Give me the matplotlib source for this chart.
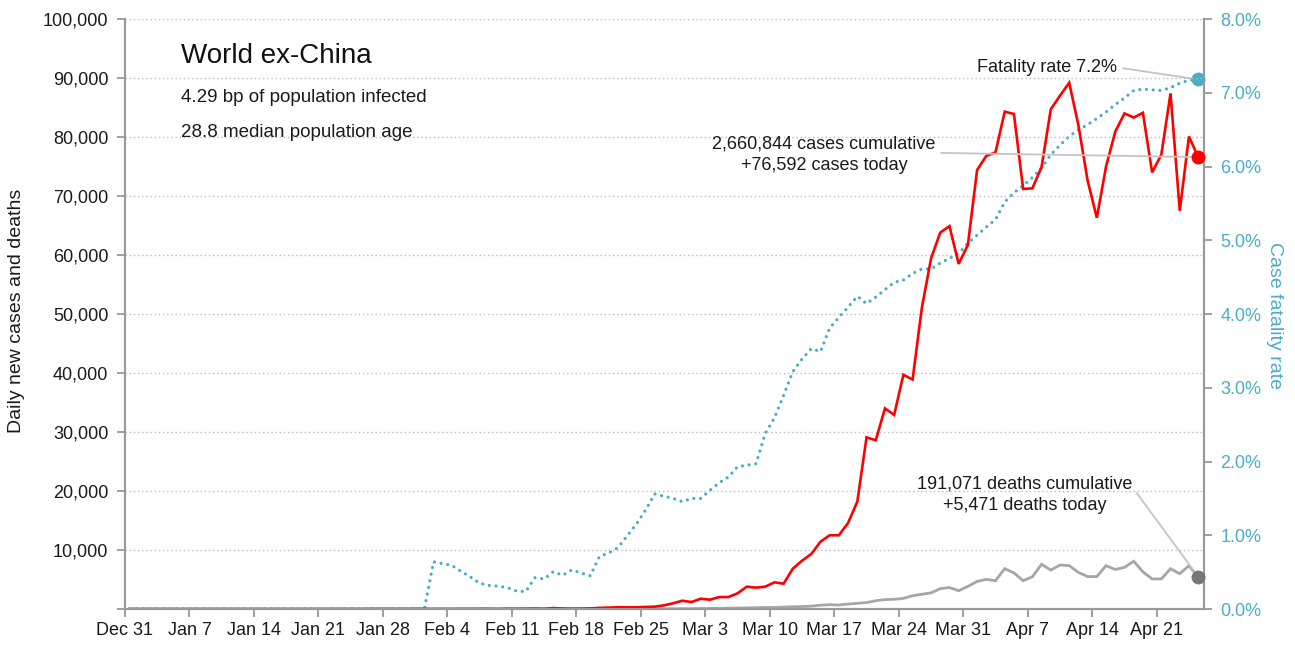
import numpy as np
import pandas as pd
import matplotlib
matplotlib.use("Agg")
import matplotlib.pyplot as plt

# no condensed face available here, Liberation Sans is the narrowest fallback
plt.rcParams['font.family'] = ['Liberation Sans', 'DejaVu Sans']

TEAL = '#4bacc6'
RED = '#ff0000'
GREY = '#a6a6a6'
SPINE = '#999999'
INK = '#1a1a1a'

# one value per day, Dec 31 -> Apr 25 (plotted at midday)
dates = pd.date_range('2019-12-31 12:00', periods=117, freq='D')

new_cases = [
    0, 0, 0, 0, 0, 0, 0, 0, 0, 0,
    0, 0, 0, 1, 0, 0, 1, 0, 1, 1,
    2, 3, 5, 8, 12, 10, 16, 18, 23, 20,
    15, 30, 25, 14, 20, 15, 30, 25, 40, 38,
    15, 50, 45, 60, 80, 40, 160, 90, 60, 75,
    110, 190, 240, 300, 280, 290, 350, 400, 620, 970,
    1410, 1190, 1750, 1580, 2030, 2030, 2660, 3790, 3620, 3790,
    4520, 4300, 6840, 8190, 9320, 11400, 12500, 12500, 14600, 18200,
    29100, 28600, 34000, 32900, 39700, 38900, 51000, 59400, 63800, 64900,
    58500, 61700, 74400, 76800, 77400, 84300, 83900, 71200, 71300, 74900,
    84700, 87000, 89200, 82000, 72600, 66300, 75000, 80900, 84000, 83300,
    84100, 74000, 77000, 87400, 67500, 80100, 76592,
]

new_deaths = [
    0, 0, 0, 0, 0, 0, 0, 0, 0, 0,
    0, 0, 0, 0, 0, 0, 0, 0, 0, 0,
    0, 0, 0, 0, 0, 0, 0, 0, 0, 0,
    0, 0, 0, 1, 0, 0, 1, 0, 0, 1,
    0, 1, 1, 2, 2, 3, 2, 3, 4, 5,
    6, 8, 10, 12, 15, 20, 30, 35, 40, 50,
    60, 65, 90, 100, 110, 150, 170, 200, 230, 260,
    270, 320, 380, 420, 480, 650, 740, 680, 850, 960,
    1100, 1400, 1600, 1650, 1800, 2250, 2500, 2740, 3460, 3640,
    3100, 3830, 4670, 5030, 4800, 6850, 6120, 4800, 5460, 7580,
    6600, 7460, 7350, 6200, 5500, 5500, 7350, 6700, 7060, 8100,
    6300, 5100, 5100, 6830, 5990, 7350, 5471,
]

# case fatality rate, %
fatality_rate = [
    0, 0, 0, 0, 0, 0, 0, 0, 0, 0,
    0, 0, 0, 0, 0, 0, 0, 0, 0, 0,
    0, 0, 0, 0, 0, 0, 0, 0, 0, 0,
    0, 0, 0, 0.64, 0.615, 0.59, 0.51, 0.434, 0.35, 0.32,
    0.31, 0.29, 0.244, 0.236, 0.425, 0.407, 0.507, 0.457, 0.53, 0.49,
    0.45, 0.71, 0.76, 0.83, 0.99, 1.15, 1.34, 1.56, 1.53, 1.50,
    1.455, 1.50, 1.50, 1.61, 1.71, 1.79, 1.93, 1.95, 1.97, 2.38,
    2.59, 2.9, 3.22, 3.39, 3.53, 3.49, 3.81, 3.955, 4.095, 4.24,
    4.14, 4.23, 4.33, 4.43, 4.46, 4.55, 4.61, 4.61, 4.69, 4.755,
    4.82, 4.96, 5.07, 5.18, 5.28, 5.52, 5.645, 5.74, 5.85, 5.98,
    6.16, 6.29, 6.41, 6.495, 6.57, 6.65, 6.74, 6.84, 6.93, 7.03,
    7.05, 7.04, 7.03, 7.07, 7.13, 7.17, 7.18,
]

tick_dates = pd.date_range('2019-12-31', '2020-04-21', freq='7D')
tick_labels = [f"{d:%b} {d.day}" for d in tick_dates]
left_ticks = list(range(0, 100001, 10000))
right_ticks = list(range(0, 9))

title = "World ex-China"
subtitle = ["4.29 bp of population infected", "28.8 median population age"]

fig = plt.figure(figsize=(12.95, 6.49), dpi=100)
ax = fig.add_axes([0.0965, 0.0616, 0.833, 0.9091])
ax2 = ax.twinx()
ax.set_zorder(ax2.get_zorder() + 1)
ax.patch.set_visible(False)

# lines
ax2.plot(dates, fatality_rate, color=TEAL, lw=2.3, linestyle=(0, (0.01, 2.1)),
         dash_capstyle='round')
ax.plot(dates, new_deaths, color=GREY, lw=2.0, solid_joinstyle='miter')
ax.plot(dates, new_cases, color=RED, lw=1.9, solid_joinstyle='miter')

# end markers
ax2.plot(dates[-1], fatality_rate[-1], 'o', color=TEAL, ms=9, clip_on=False, zorder=5)
ax.plot(dates[-1], new_cases[-1], 'o', color=RED, ms=9, clip_on=False, zorder=5)
ax.plot(dates[-1], new_deaths[-1], 'o', color='#777777', ms=9, clip_on=False, zorder=5)

# axes
ax.set_xlim(pd.Timestamp('2019-12-31'), pd.Timestamp('2019-12-31') + pd.Timedelta(days=117.1))
ax.set_ylim(0, 100000)
ax2.set_ylim(0, 8)

ax.set_xticks(tick_dates)
ax.set_xticklabels(tick_labels)
ax.set_yticks(left_ticks)
ax.set_yticklabels([''] + [f"{v:,}" for v in left_ticks[1:]])
ax2.set_yticks(right_ticks)
ax2.set_yticklabels([f"{v:.1f}%" for v in right_ticks])

ax.grid(axis='y', color='#bbbbbb', lw=1, linestyle=(0, (1, 2)))
ax.set_axisbelow(True)

for a in (ax, ax2):
    a.spines['top'].set_visible(False)
    for s in ('left', 'right', 'bottom'):
        a.spines[s].set_color(SPINE)
        a.spines[s].set_linewidth(1.5)

ax.tick_params(axis='both', colors=SPINE, labelcolor=INK, labelsize=13,
               length=6, width=1.3)
ax.tick_params(axis='y', pad=6)
ax2.tick_params(axis='y', colors=SPINE, labelcolor=TEAL, labelsize=13,
                length=6, width=1.3, pad=6)

# axis titles
fig.text(17 / 1295, 0.5216, "Daily new cases and deaths", rotation=90,
         ha='center', va='center', fontsize=14, color=INK)
fig.text(1274 / 1295, 0.5139, "Case fatality rate", rotation=270,
         ha='center', va='center', fontsize=14, color=TEAL)

# titles
ax.text(0.052, 0.925, title, transform=ax.transAxes, fontsize=20,
        color='#111111', va='baseline')
ax.text(0.052, 0.860, subtitle[0], transform=ax.transAxes, fontsize=13.5,
        color=INK, va='baseline')
ax.text(0.052, 0.800, subtitle[1], transform=ax.transAxes, fontsize=13.5,
        color=INK, va='baseline')

# annotations
line_kw = dict(arrowstyle='-', color='#c4c4c4', lw=1.3, shrinkA=2, shrinkB=5)
ax2.annotate(f"Fatality rate {fatality_rate[-1]:.1f}%",
             xy=(dates[-1], fatality_rate[-1]), xytext=(0.92, 0.918),
             textcoords='axes fraction', ha='right', va='center', fontsize=13,
             color=INK, arrowprops=dict(line_kw, relpos=(1, 0.5)))
ax.annotate(f"{2660844:,} cases cumulative\n+{new_cases[-1]:,} cases today",
            xy=(dates[-1], new_cases[-1]), xytext=(0.648, 0.770),
            textcoords='axes fraction', ha='center', va='center', fontsize=13,
            color=INK, linespacing=1.3,
            arrowprops=dict(line_kw, relpos=(1, 0.55)))
ax.annotate(f"{191071:,} deaths cumulative\n+{new_deaths[-1]:,} deaths today",
            xy=(dates[-1], new_deaths[-1]), xytext=(0.834, 0.194),
            textcoords='axes fraction', ha='center', va='center', fontsize=13,
            color=INK, linespacing=1.3,
            arrowprops=dict(line_kw, relpos=(1, 0.7)))

fig.savefig("out.png", dpi=100)
